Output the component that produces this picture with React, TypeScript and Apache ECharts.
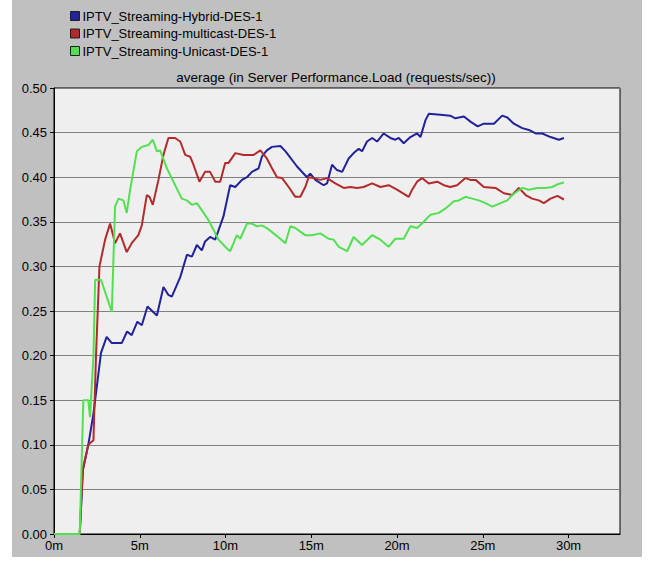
import React, { useEffect, useRef } from "react";
import * as echarts from "echarts";

const seriesNames = [
  "IPTV_Streaming-Hybrid-DES-1",
  "IPTV_Streaming-multicast-DES-1",
  "IPTV_Streaming-Unicast-DES-1",
];

const hybridT = [0,1.5,1.69,2.0,2.3,2.74,3.07,3.37,3.95,4.26,4.53,4.86,5.12,5.45,6.0,6.38,6.67,6.87,7.36,7.75,8.04,8.33,8.62,8.81,9.1,9.4,9.88,10.27,10.57,10.96,11.25,11.54,11.93,12.12,12.41,12.71,13.2,13.5,14.17,14.75,14.94,15.24,15.72,15.92,16.21,16.5,16.8,17.18,17.47,17.77,17.96,18.25,18.55,18.84,19.22,19.61,19.9,20.1,20.39,20.78,21.17,21.37,21.66,21.85,22.53,23.1,23.4,23.9,24.3,24.7,25.06,25.65,26.13,26.43,26.81,27.3,27.69,28.08,28.47,28.95,29.44,29.73];
const hybridV = [0,0,0.072,0.1,0.135,0.203,0.221,0.214,0.214,0.227,0.223,0.238,0.234,0.255,0.245,0.277,0.268,0.266,0.288,0.313,0.311,0.324,0.318,0.328,0.333,0.33,0.356,0.391,0.389,0.397,0.40,0.406,0.41,0.423,0.43,0.434,0.435,0.429,0.412,0.40,0.404,0.397,0.391,0.393,0.414,0.408,0.406,0.421,0.427,0.432,0.429,0.44,0.444,0.44,0.449,0.444,0.442,0.444,0.438,0.445,0.449,0.445,0.464,0.471,0.470,0.469,0.466,0.468,0.462,0.457,0.460,0.460,0.469,0.467,0.460,0.455,0.453,0.449,0.449,0.445,0.442,0.444];

const multicastT = [0,1.5,1.67,2.0,2.3,2.45,2.65,2.98,3.27,3.56,3.85,4.24,4.53,4.92,5.12,5.41,5.57,5.76,6.09,6.38,6.67,7.06,7.36,7.65,7.94,8.13,8.48,8.81,9.1,9.4,9.69,9.98,10.18,10.57,11.05,11.64,12.03,12.41,12.71,13.0,13.3,13.68,14.07,14.36,14.65,14.85,15.14,15.53,15.92,16.4,16.89,17.28,17.67,18.05,18.55,19.03,19.51,20.0,20.68,20.88,21.17,21.46,21.85,22.34,22.73,23.1,23.5,23.99,24.28,24.58,25.06,25.74,26.23,26.72,27.1,27.5,27.88,28.27,28.56,28.95,29.35,29.73];
const multicastV = [0,0,0.072,0.10,0.105,0.2,0.30,0.33,0.348,0.326,0.337,0.316,0.326,0.335,0.346,0.38,0.378,0.369,0.397,0.425,0.444,0.444,0.44,0.425,0.423,0.414,0.395,0.406,0.406,0.395,0.395,0.416,0.416,0.427,0.425,0.425,0.43,0.421,0.41,0.40,0.399,0.389,0.378,0.378,0.389,0.40,0.399,0.397,0.399,0.393,0.388,0.389,0.388,0.389,0.393,0.389,0.391,0.386,0.378,0.386,0.395,0.399,0.393,0.395,0.391,0.389,0.391,0.399,0.397,0.397,0.389,0.388,0.382,0.380,0.388,0.38,0.376,0.374,0.371,0.376,0.379,0.375];

const unicastT = [0,1.5,1.71,2.0,2.1,2.3,2.4,2.74,3.37,3.56,3.76,4.05,4.24,4.44,4.83,5.12,5.5,5.76,6.0,6.19,6.58,6.96,7.45,7.75,8.04,8.33,8.72,9.0,9.3,9.59,9.98,10.27,10.47,10.66,10.86,11.25,11.54,11.83,12.12,12.41,12.8,13.19,13.49,13.78,14.07,14.36,14.65,15.04,15.53,16.01,16.3,16.6,17.09,17.47,17.96,18.55,19.03,19.51,19.9,20.39,20.78,21.17,21.56,21.95,22.44,22.83,23.31,23.6,23.99,24.38,24.77,25.16,25.55,26.04,26.43,26.72,27.0,27.3,27.69,28.18,28.66,29.05,29.35,29.73];
const unicastV = [0,0,0.15,0.15,0.131,0.2,0.285,0.285,0.249,0.367,0.376,0.374,0.36,0.386,0.429,0.434,0.436,0.442,0.429,0.43,0.41,0.395,0.376,0.374,0.369,0.371,0.36,0.352,0.341,0.33,0.322,0.317,0.326,0.335,0.331,0.348,0.348,0.345,0.346,0.343,0.337,0.331,0.326,0.345,0.343,0.339,0.335,0.335,0.337,0.331,0.33,0.322,0.317,0.333,0.324,0.335,0.33,0.322,0.331,0.331,0.345,0.343,0.350,0.358,0.36,0.365,0.373,0.374,0.378,0.376,0.374,0.371,0.367,0.371,0.374,0.38,0.384,0.388,0.386,0.388,0.388,0.389,0.392,0.394];

const chartTitle = "average (in Server Performance.Load (requests/sec))";
const colors = ["#22229a", "#b22a2a", "#52e052"];

const pairs = (t: number[], v: number[]) => t.map((x, i) => [x, v[i]]);

export default function App() {
  const ref = useRef<HTMLDivElement>(null);
  useEffect(() => {
    if (!ref.current) return;
    const chart = echarts.init(ref.current, null, { renderer: "svg" });
    const font = "'Liberation Sans', Arial, sans-serif";
    const data = [pairs(hybridT, hybridV), pairs(multicastT, multicastV), pairs(unicastT, unicastV)];
    chart.setOption({
      animation: false,
      backgroundColor: "#ffffff",
      graphic: [
        { type: "rect", z: -10, shape: { x: 12, y: 0, width: 630, height: 557 }, style: { fill: "#c0c0c0" } },
        {
          type: "text", x: 336, y: 77,
          style: { text: chartTitle, fill: "#000", font: `13.5px ${font}`, textAlign: "center", textVerticalAlign: "middle" },
        },
      ],
      legend: {
        orient: "vertical",
        left: 70,
        top: 9.5,
        padding: 0,
        itemWidth: 9,
        itemHeight: 9,
        itemGap: 4.5,
        icon: "rect",
        itemStyle: { borderColor: "#202020", borderWidth: 1 },
        textStyle: { fontFamily: font, fontSize: 13, color: "#000", lineHeight: 13, padding: [0, 0, 0, -2] },
        data: seriesNames,
      },
      grid: {
        left: 54, top: 88, width: 566, height: 446,
        show: true, backgroundColor: "#efefef", borderColor: "#000", borderWidth: 1,
      },
      xAxis: {
        type: "value", min: 0, max: 33, interval: 5,
        axisLine: { lineStyle: { color: "#000" } },
        axisTick: { length: 4, lineStyle: { color: "#000" } },
        axisLabel: {
          fontFamily: font, fontSize: 13, color: "#000", margin: 5,
          showMaxLabel: false,
          formatter: (v: number) => (v % 5 === 0 ? `${v}m` : ""),
        },
        splitLine: { show: false },
      },
      yAxis: {
        type: "value", min: 0, max: 0.5, interval: 0.05,
        axisLine: { show: true, lineStyle: { color: "#000" } },
        axisTick: { show: true, length: 4, lineStyle: { color: "#000" } },
        axisLabel: {
          fontFamily: font, fontSize: 13, color: "#000", margin: 7,
          formatter: (v: number) => v.toFixed(2),
        },
        splitLine: { show: true, lineStyle: { color: "#808080", width: 1 } },
      },
      series: seriesNames.map((name, i) => ({
        name, type: "line", data: data[i], showSymbol: false, symbol: "none",
        color: colors[i],
        lineStyle: { width: 2, color: colors[i] },
      })),
    });
    return () => chart.dispose();
  }, []);
  return <div ref={ref} style={{ position: "fixed", left: 0, top: 0, width: 650, height: 561 }} />;
}
